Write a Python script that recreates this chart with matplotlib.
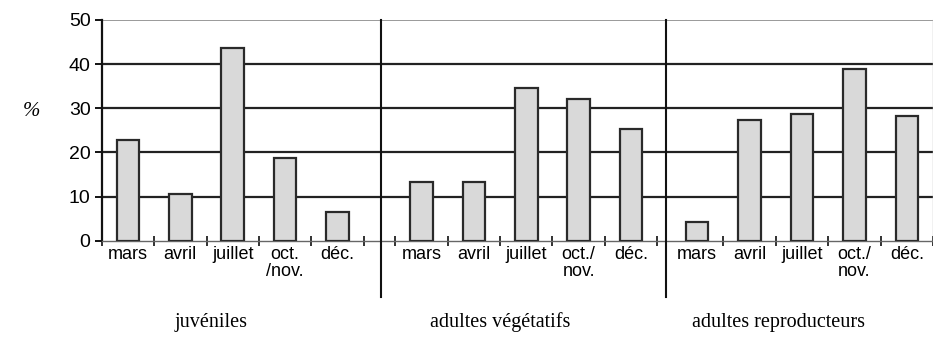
import numpy as np
import matplotlib.pyplot as plt

# Percentages per sampling month, for each life stage
months_juv = ['mars', 'avril', 'juillet', 'oct.\n/nov.', 'déc.']
months_adu = ['mars', 'avril', 'juillet', 'oct./\nnov.', 'déc.']
juveniles = [22.7, 10.6, 43.7, 18.8, 6.6]
adultes_veg = [13.3, 13.3, 34.7, 32.0, 25.2]
adultes_rep = [4.3, 27.4, 28.8, 38.8, 28.3]
groups = ['juvéniles', 'adultes végétatifs', 'adultes reproducteurs']

# layout: each group is 5 slots wide, groups set side by side with small gaps
group_start = [0.0, 5.6, 10.86]
dividers = [5.32, 10.77]
group_label_x = [211, 500, 779]

fig = plt.figure(figsize=(9.33, 3.6), dpi=100)
ax = fig.add_axes([0.109, 0.3314, 0.891, 0.6131])

sans = ['Liberation Sans', 'DejaVu Sans']
serif = ['Liberation Serif', 'DejaVu Serif']

all_vals = [juveniles, adultes_veg, adultes_rep]
all_labels = [months_juv, months_adu, months_adu]
centers, labels, bounds = [], [], []
for g, (vals, labs) in enumerate(zip(all_vals, all_labels)):
    x = group_start[g] + np.arange(len(vals)) + 0.5
    ax.bar(x, vals, width=0.43, color='#d9d9d9', edgecolor='#2a2a2a',
           linewidth=1.6, zorder=3)
    centers.extend(x)
    labels.extend(labs)
    b = group_start[g] + np.arange(len(vals) + 1)
    if g == 2:
        b = b[1:]
    bounds.extend(b)

ax.set_xlim(0, 15.83)
ax.set_ylim(0, 50)

# horizontal grid
for y in [10, 20, 30, 40]:
    ax.axhline(y, color='#222222', linewidth=1.6, zorder=1)
ax.axhline(50, color='#9a9a9a', linewidth=1.4, zorder=1)

# group dividers running below the axis
for d in dividers:
    ax.plot([d, d], [50, -12.7], color='#111111', linewidth=1.5,
            clip_on=False, zorder=4)

ax.set_xticks(centers)
ax.set_xticklabels(labels, family=sans, fontsize=13, linespacing=1.0)
ax.set_xticks(bounds, minor=True)
ax.tick_params(axis='x', which='major', length=0, pad=4)
ax.tick_params(axis='x', which='minor', direction='inout', length=7,
               width=1.3, color='#222222')

ax.set_yticks([0, 10, 20, 30, 40, 50])
ax.set_yticklabels(['0', '10', '20', '30', '40', '50'], family=sans, fontsize=14)
ax.tick_params(axis='y', direction='out', length=5, width=1.3, pad=3)

ax.spines['top'].set_visible(False)
ax.spines['right'].set_color('#bbbbbb')
ax.spines['right'].set_linewidth(1.0)
ax.spines['left'].set_linewidth(1.6)
ax.spines['left'].set_color('#111111')
ax.spines['bottom'].set_color('#666666')
ax.spines['bottom'].set_linewidth(1.0)
ax.spines['bottom'].set_linestyle((0, (1, 1)))

fig.text(31 / 933, 1 - 112 / 360, '%', family=serif, style='italic',
         fontsize=15, ha='center', va='center')

for name, xp in zip(groups, group_label_x):
    fig.text(xp / 933, 1 - 322 / 360, name, family=serif, fontsize=14.5,
             ha='center', va='center')

fig.savefig('out.png', dpi=100)
